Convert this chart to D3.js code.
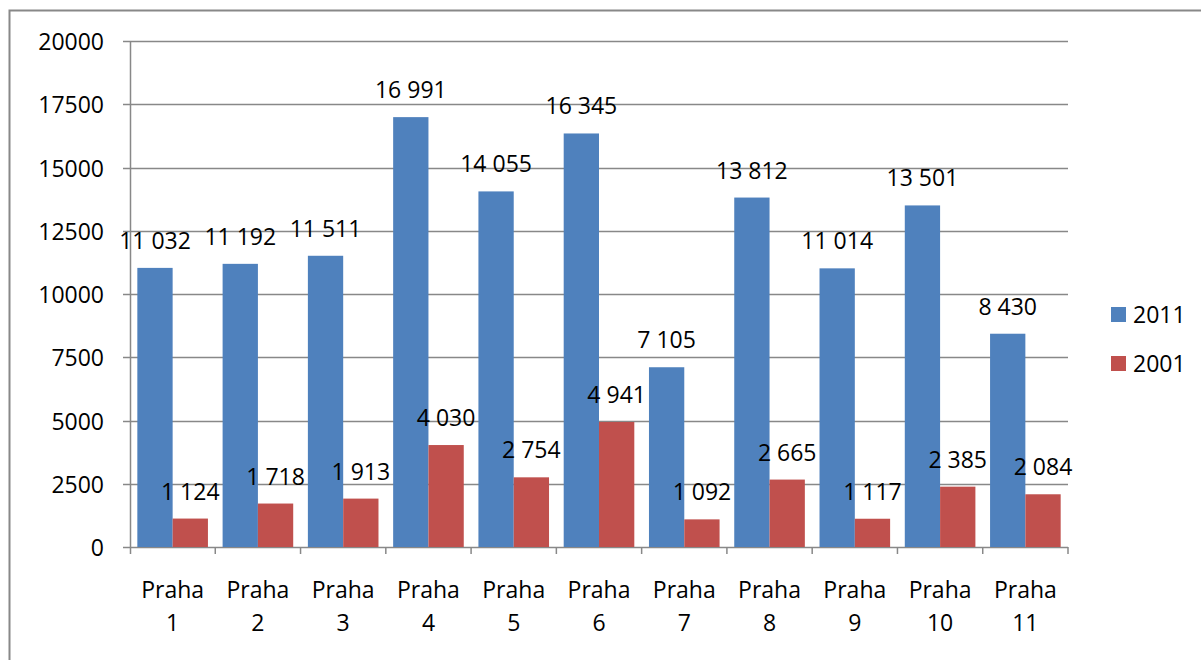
<!DOCTYPE html>
<html>
<head>
<meta charset="utf-8">
<script src="https://cdn.jsdelivr.net/npm/d3@7"></script>
<style>
  html, body { margin: 0; padding: 0; background: #fff; }
  svg { display: block; }
  text { font-family: "Open Sans", "Noto Sans", sans-serif; fill: #000; }
</style>
</head>
<body>
<svg id="chart" width="1201" height="660"></svg>
<script>
// Počet obyvatel podle městských částí, 2011 vs. 2001
const categories = ["Praha 1", "Praha 2", "Praha 3", "Praha 4", "Praha 5", "Praha 6",
                    "Praha 7", "Praha 8", "Praha 9", "Praha 10", "Praha 11"];
const values2011 = [11032, 11192, 11511, 16991, 14055, 16345, 7105, 13812, 11014, 13501, 8430];
const values2001 = [1124, 1718, 1913, 4030, 2754, 4941, 1092, 2665, 1117, 2385, 2084];
const seriesNames = ["2011", "2001"];
const seriesColors = ["#4F81BD", "#C0504D"];
const yTicks = [0, 2500, 5000, 7500, 10000, 12500, 15000, 17500, 20000];

const svg = d3.select("#chart");
const gridColor = "#888888";
const fontSize = 23;

// outer chart frame (continues past the right and bottom edges)
svg.append("rect")
  .attr("x", 9.5).attr("y", 10.5)
  .attr("width", 1300).attr("height", 700)
  .attr("fill", "none").attr("stroke", gridColor).attr("stroke-width", 2);

const plot = { left: 130, right: 1068, top: 41, bottom: 547 };

const x = d3.scaleBand().domain(categories)
  .range([plot.left, plot.right]).paddingInner(0.172).paddingOuter(0.086);
const xs = d3.scaleBand().domain(seriesNames).range([0, x.bandwidth()]).padding(0);
const y = d3.scaleLinear().domain([0, 20000]).range([plot.bottom, plot.top]);

// horizontal gridlines with outside tick marks
const grid = svg.append("g");
grid.selectAll("line").data(yTicks).join("line")
  .attr("x1", plot.left - 7).attr("x2", plot.right)
  .attr("y1", d => Math.round(y(d)) + 0.5).attr("y2", d => Math.round(y(d)) + 0.5)
  .attr("stroke", gridColor).attr("stroke-width", 1.5);

// y tick labels
svg.append("g").selectAll("text").data(yTicks).join("text")
  .attr("x", 104).attr("y", d => y(d))
  .attr("text-anchor", "end").attr("dominant-baseline", "central")
  .attr("font-size", fontSize)
  .text(d => d);

// bars
const rows = categories.map((c, i) => ({ c, vals: [values2011[i], values2001[i]] }));
const groups = svg.append("g").selectAll("g").data(rows).join("g")
  .attr("transform", d => `translate(${x(d.c)},0)`);

groups.selectAll("rect").data(d => d.vals.map((v, j) => ({ v, s: seriesNames[j], j })))
  .join("rect")
  .attr("x", d => xs(d.s))
  .attr("y", d => y(d.v))
  .attr("width", xs.bandwidth())
  .attr("height", d => y(0) - y(d.v))
  .attr("fill", d => seriesColors[d.j]);

// value labels above each bar
const fmt = v => d3.format(",")(v).replace(/,/g, "\u00a0");
groups.selectAll("text").data(d => d.vals.map((v, j) => ({ v, s: seriesNames[j] })))
  .join("text")
  .attr("x", d => xs(d.s) + xs.bandwidth() / 2)
  .attr("y", d => y(d.v) - 19)
  .attr("text-anchor", "middle")
  .attr("font-size", fontSize)
  .text(d => fmt(d.v));

// left axis line
svg.append("line")
  .attr("x1", plot.left + 0.5).attr("x2", plot.left + 0.5)
  .attr("y1", plot.top).attr("y2", plot.bottom + 7)
  .attr("stroke", gridColor).attr("stroke-width", 1.5);

// category ticks on the baseline
const catEdges = categories.map(c => x(c) - x.step() * x.paddingInner() / 2).concat([plot.right]);
svg.append("g").selectAll("line").data(catEdges.slice(1)).join("line")
  .attr("x1", d => d).attr("x2", d => d)
  .attr("y1", plot.bottom).attr("y2", plot.bottom + 7)
  .attr("stroke", gridColor).attr("stroke-width", 1.5);

// category labels on two lines
const cl = svg.append("g").selectAll("text").data(categories).join("text")
  .attr("text-anchor", "middle").attr("font-size", fontSize)
  .attr("transform", d => `translate(${x(d) + x.bandwidth() / 2},0)`);
cl.append("tspan").attr("x", 0).attr("y", 598).text(d => d.split(" ")[0]);
cl.append("tspan").attr("x", 0).attr("y", 631).text(d => d.split(" ")[1]);

// legend
const legend = svg.append("g").selectAll("g").data(seriesNames).join("g")
  .attr("transform", (d, i) => `translate(1111,${307 + i * 49})`);
legend.append("rect").attr("width", 15).attr("height", 15)
  .attr("fill", (d, i) => seriesColors[i]);
legend.append("text").attr("x", 22).attr("y", 16)
  .attr("font-size", fontSize).text(d => d);
</script>
</body>
</html>
